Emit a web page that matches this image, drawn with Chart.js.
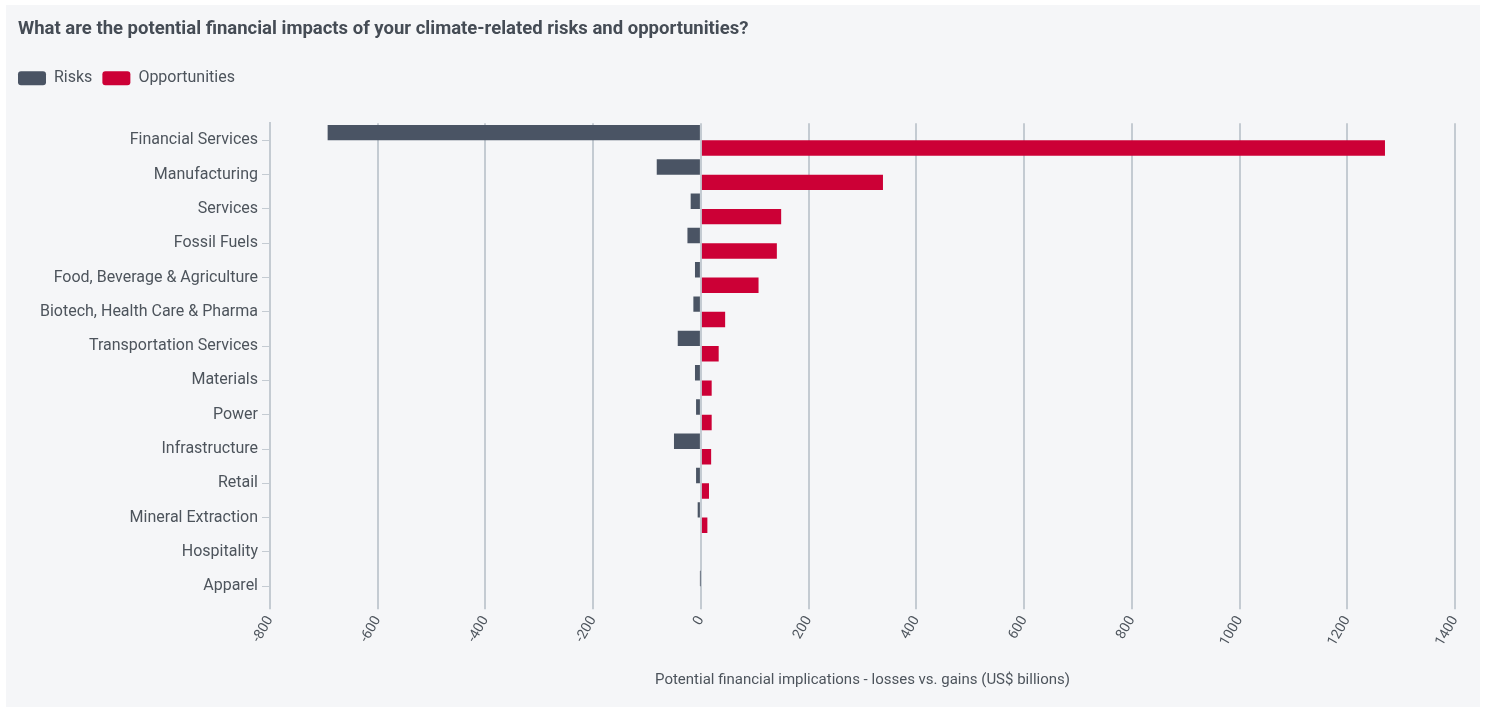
<!DOCTYPE html>
<html>
<head>
<meta charset="utf-8">
<script src="https://cdn.jsdelivr.net/npm/chart.js@4/dist/chart.umd.min.js"></script>
<style>
  html, body { margin: 0; padding: 0; background: #ffffff; }
  #panel { position: absolute; left: 6px; top: 5px; width: 1474px; height: 702px; background: #f5f6f8; }
  #c { display: block; }
</style>
</head>
<body>
<div id="panel"><canvas id="c" width="1474" height="702"></canvas></div>
<script>
const categories = ["Financial Services","Manufacturing","Services","Fossil Fuels","Food, Beverage & Agriculture","Biotech, Health Care & Pharma","Transportation Services","Materials","Power","Infrastructure","Retail","Mineral Extraction","Hospitality","Apparel"];
const risks = [-693, -82, -19, -25, -11, -14, -43, -11, -9, -50, -9, -6, 0, -0.5];
const opportunities = [1270, 338, 149, 141, 107, 45, 33, 20, 20, 19, 15, 12, 0, 0];
const xMin = -800, xMax = 1400, xStep = 200;
const titleText = "What are the potential financial impacts of your climate-related risks and opportunities?";
const xTitle = "Potential financial implications - losses vs. gains (US$ billions)";

const textColor = "#4d545c";
const gridColor = "#c4cbd2";

const legendTweak = {
  id: "legendTweak",
  beforeInit(chart) {
    const lg = chart.legend;
    if (lg) {
      const origFit = lg.fit;
      lg.fit = function () { origFit.call(this); this.height += 27; };
    }
  },
  afterLayout(chart) {
    if (chart.legend) { chart.legend.left -= 10; }
  }
};

new Chart(document.getElementById("c"), {
  type: "bar",
  data: {
    labels: categories,
    datasets: [
      { label: "Risks", data: risks, backgroundColor: "#4a5464", categoryPercentage: 0.9, barPercentage: 1.0 },
      { label: "Opportunities", data: opportunities, backgroundColor: "#cc0036", categoryPercentage: 0.9, barPercentage: 1.0 }
    ]
  },
  plugins: [legendTweak],
  options: {
    indexAxis: "y",
    responsive: false,
    animation: false,
    layout: { padding: { left: 12, right: 25, top: 8, bottom: 14 } },
    plugins: {
      title: {
        display: true, text: titleText, align: "start", color: "#454c55",
        font: { family: "Roboto", size: 18.5, weight: "bold" },
        padding: { top: 5, bottom: 20 }
      },
      legend: {
        display: true, align: "start",
        labels: {
          color: textColor, boxWidth: 28, boxHeight: 14, padding: 10,
          font: { family: "Roboto", size: 16 },
          useBorderRadius: true, borderRadius: 3
        }
      },
      tooltip: { enabled: false }
    },
    scales: {
      x: {
        type: "linear", min: xMin, max: xMax,
        ticks: {
          stepSize: xStep, minRotation: 60, maxRotation: 60, color: textColor,
          font: { family: "Roboto", size: 14 }, padding: 4,
          callback: (v) => String(v)
        },
        grid: { color: gridColor, lineWidth: 2, tickLength: 6, drawTicks: true },
        border: { display: false },
        title: { display: true, text: xTitle, color: textColor, font: { family: "Roboto", size: 15 }, padding: { top: 18 } }
      },
      y: {
        ticks: { color: textColor, font: { family: "Roboto", size: 16 }, padding: 4 },
        grid: { drawOnChartArea: false, offset: false, color: gridColor, tickLength: 8, lineWidth: 1 },
        border: { display: true, color: gridColor, width: 2 },
        afterFit: (s) => { s.width = 252; }
      }
    }
  }
});
</script>
</body>
</html>
